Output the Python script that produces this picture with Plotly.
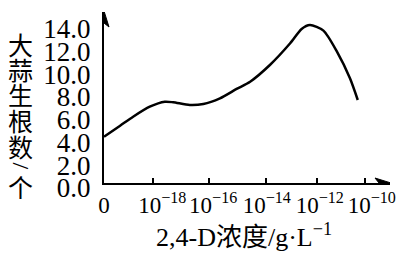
import plotly.graph_objects as go

# ---- data ----
# x: position along the drawn concentration axis (1 unit ~ one tick interval)
x_pos = [0.0, 0.31, 0.56, 0.88, 1.17, 1.33, 1.65, 1.91, 2.23, 2.55, 2.81,
         3.19, 3.58, 3.80, 3.96, 4.22, 4.48, 4.73, 4.88]
root_count = [4.07, 5.04, 5.83, 6.71, 7.15, 7.10, 6.86, 6.95, 7.45, 8.27, 8.91,
              10.38, 12.29, 13.55, 13.90, 13.40, 11.55, 9.21, 7.30]

tick_pos = [0.94, 2.02, 3.12, 4.10, 5.02]
label_pos = [0.0, 1.12, 2.10, 3.13, 4.15, 5.15]
label_text = ["0", "10<sup>−18</sup>", "10<sup>−16</sup>", "10<sup>−14</sup>",
              "10<sup>−12</sup>", "10<sup>−10</sup>"]
y_ticks = [0, 2, 4, 6, 8, 10, 12, 14]
y_title_chars = ["大", "蒜", "生", "根", "数", "/", "个"]
x_title = "2,4-D浓度/g·L<sup>−1</sup>"

# ---- layout geometry ----
W, H = 409, 265
L, R, T, B = 104, 19, 12, 82
PW, PH = W - L - R, H - T - B
X_MAX = 5.5
Y_MAX = 15.04

def px_x(p):
    return (p - L) / PW

def px_y(p):
    return (H - B - p) / PH

FONT = "Times New Roman, Liberation Serif, DejaVu Serif, Noto Sans CJK SC, serif"
CJK = "Noto Sans CJK SC, sans-serif"

fig = go.Figure()
fig.add_trace(go.Scatter(
    x=x_pos, y=root_count, mode="lines",
    line=dict(color="black", width=2.5, shape="spline", smoothing=0.7),
    cliponaxis=False, hoverinfo="skip"))
# empty trace so the label axis exists
fig.add_trace(go.Scatter(x=[], y=[], xaxis="x2", yaxis="y", hoverinfo="skip"))

fig.update_layout(
    width=W, height=H,
    margin=dict(l=L, r=R, t=T, b=B),
    plot_bgcolor="white", paper_bgcolor="white",
    showlegend=False,
    font=dict(family=FONT, color="black"),
    xaxis=dict(range=[0, X_MAX], showline=True, linecolor="black", linewidth=2,
               showgrid=False, zeroline=False, ticks="inside", ticklen=5,
               tickwidth=2, tickcolor="black", tickvals=tick_pos,
               showticklabels=False, fixedrange=True),
    xaxis2=dict(range=[0, X_MAX], overlaying="x", side="bottom", showline=False,
                showgrid=False, zeroline=False, ticks="", tickvals=label_pos,
                ticktext=label_text, tickfont=dict(size=23, family=FONT),
                tickangle=0, ticklabelstandoff=6, ticklabeloverflow="allow",
                fixedrange=True),
    yaxis=dict(range=[0, Y_MAX], showline=True, linecolor="black", linewidth=2,
               showgrid=False, zeroline=False, ticks="", tickvals=y_ticks,
               tickformat=".1f", tickfont=dict(size=27, family=FONT),
               ticklabelstandoff=6, ticklabelshift=5, fixedrange=True),
)

# arrow heads
fig.add_shape(type="path", xref="x", yref="y", xsizemode="pixel", ysizemode="pixel",
              xanchor=X_MAX, yanchor=0, path="M1,0 L-15,5 L-11,0 L-15,-5 Z",
              fillcolor="black", line=dict(color="black", width=1))
fig.add_shape(type="path", xref="x", yref="y", xsizemode="pixel", ysizemode="pixel",
              xanchor=0, yanchor=Y_MAX, path="M0,1 L-5,-15 L0,-11 L5,-15 Z",
              fillcolor="black", line=dict(color="black", width=1))

# vertical y-axis title, one character per line
y_centers = [44, 69, 94, 120, 146, 166, 186]
for ch, yc in zip(y_title_chars, y_centers):
    fig.add_annotation(text=ch, xref="paper", yref="paper", x=px_x(20.5), y=px_y(yc),
                       xanchor="center", yanchor="middle", showarrow=False,
                       textangle=90 if ch == "/" else 0,
                       font=dict(size=25 if ch != "/" else 24,
                                 family=FONT if ch == "/" else CJK))

fig.add_annotation(text=x_title, xref="paper", yref="paper", x=px_x(244), y=px_y(235),
                   xanchor="center", yanchor="middle", showarrow=False,
                   font=dict(size=26, family=FONT))

fig.write_html("out.html")
